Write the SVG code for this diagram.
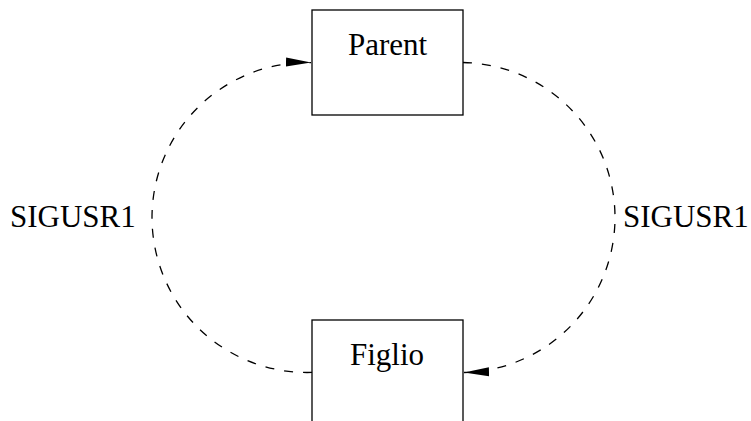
<svg xmlns="http://www.w3.org/2000/svg" width="751" height="421" viewBox="0 0 751 421">
  <style>
    .box { fill: #ffffff; stroke: #000000; stroke-width: 1.3; }
    .label { font-family: "Liberation Serif", "Times New Roman", serif; font-size: 31px; fill: #000000; }
    .signal { fill: none; stroke: #000000; stroke-width: 1.3; stroke-dasharray: 9 10; }
  </style>
  <defs>
    <marker id="arrow" markerUnits="userSpaceOnUse" markerWidth="28" markerHeight="12" refX="25" refY="5" orient="auto">
      <path d="M0,0.5 L25,5 L0,9.5 Z" fill="#000000"/>
    </marker>
  </defs>
  <rect width="751" height="421" fill="#ffffff"/>

  <!-- processes -->
  <g id="parent">
    <rect class="box" x="312" y="10" width="151" height="105"/>
    <text class="label" x="387.5" y="55" text-anchor="middle">Parent</text>
  </g>
  <g id="figlio">
    <rect class="box" x="312" y="320" width="151" height="120"/>
    <text class="label" x="387" y="365" text-anchor="middle">Figlio</text>
  </g>

  <!-- SIGUSR1 signals between the two processes -->
  <g id="connectors">
    <path class="signal" d="M312,372.4 A155,155 0 0 1 152,217.5 A155,155 0 0 1 311,62.6" marker-end="url(#arrow)"/>
    <path class="signal" d="M463,62.5 A155,155 0 0 1 615,217.5 A155,155 0 0 1 464,372.5" marker-end="url(#arrow)"/>
    <text class="label" x="10" y="227">SIGUSR1</text>
    <text class="label" x="623" y="227">SIGUSR1</text>
  </g>
</svg>
